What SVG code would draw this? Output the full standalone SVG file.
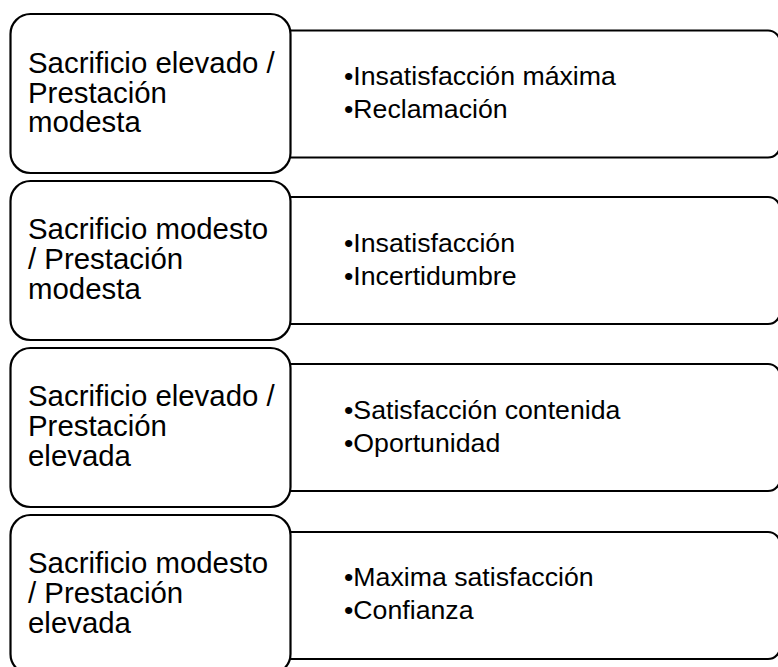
<svg xmlns="http://www.w3.org/2000/svg" width="778" height="667" viewBox="0 0 778 667">
<style>
.l{fill:#fff;stroke:#000;stroke-width:2.2}
.r{fill:#fff;stroke:#000;stroke-width:2.2}
.t{font-family:"Liberation Sans",Arial,sans-serif;font-size:29.4px;fill:#000}
.b{font-family:"Liberation Sans",Arial,sans-serif;font-size:26.7px;fill:#000}
</style>
<rect width="778" height="667" fill="#fff"/>
<g id="row1">
<rect class="r" x="270" y="30.5" width="510" height="127" rx="12"/>
<rect class="l" x="10.5" y="14" width="280" height="159" rx="20"/>
<text class="t" x="28" y="72.5">Sacrificio elevado /<tspan x="28" dy="30">Prestación</tspan><tspan x="28" dy="29.5">modesta</tspan></text>
<text class="b" x="344" y="85">•Insatisfacción máxima<tspan x="344" dy="33">•Reclamación</tspan></text>
</g>
<g id="row2">
<rect class="r" x="270" y="197" width="510" height="127" rx="12"/>
<rect class="l" x="10.5" y="181" width="280" height="159" rx="20"/>
<text class="t" x="28" y="239">Sacrificio modesto<tspan x="28" dy="30">/ Prestación</tspan><tspan x="28" dy="29.5">modesta</tspan></text>
<text class="b" x="344" y="252">•Insatisfacción<tspan x="344" dy="33">•Incertidumbre</tspan></text>
</g>
<g id="row3">
<rect class="r" x="270" y="364" width="510" height="127" rx="12"/>
<rect class="l" x="10.5" y="348" width="280" height="159" rx="20"/>
<text class="t" x="28" y="406">Sacrificio elevado /<tspan x="28" dy="30">Prestación</tspan><tspan x="28" dy="29.5">elevada</tspan></text>
<text class="b" x="344" y="419">•Satisfacción contenida<tspan x="344" dy="33">•Oportunidad</tspan></text>
</g>
<g id="row4">
<rect class="r" x="270" y="532" width="510" height="127" rx="12"/>
<rect class="l" x="10.5" y="515" width="280" height="159" rx="20"/>
<text class="t" x="28" y="573">Sacrificio modesto<tspan x="28" dy="30">/ Prestación</tspan><tspan x="28" dy="29.5">elevada</tspan></text>
<text class="b" x="344" y="586">•Maxima satisfacción<tspan x="344" dy="33">•Confianza</tspan></text>
</g>
</svg>
